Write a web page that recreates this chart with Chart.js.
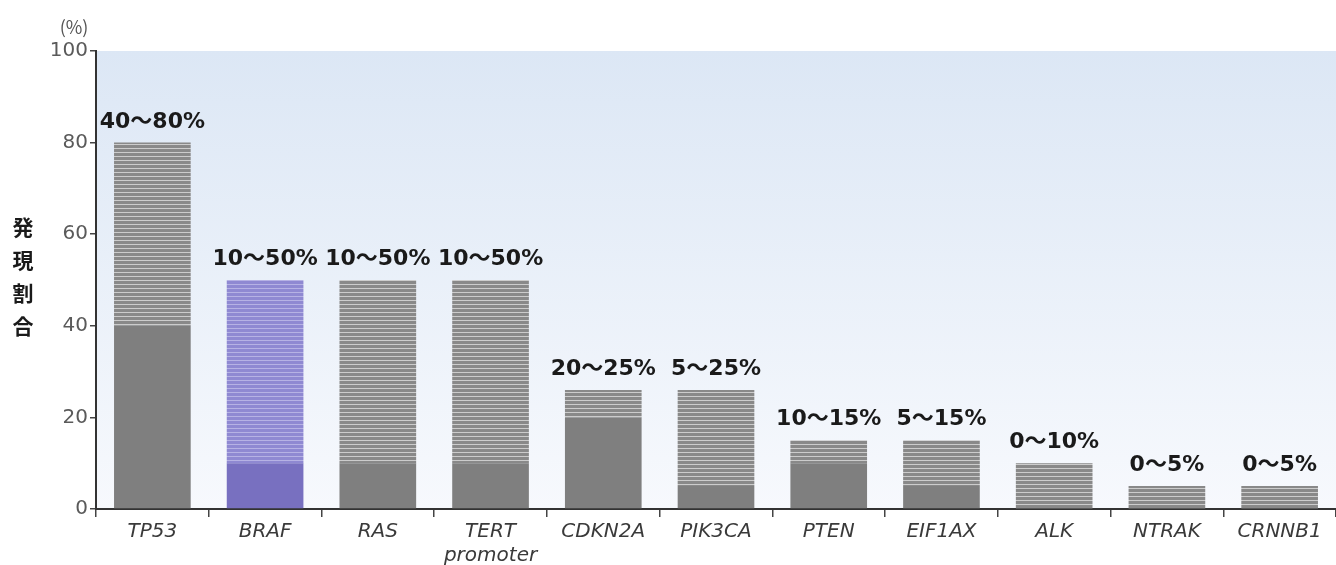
<!DOCTYPE html>
<html>
<head>
<meta charset="utf-8">
<script src="https://cdn.jsdelivr.net/npm/chart.js@4.4.1/dist/chart.umd.min.js"></script>
<style>
  html, body { margin: 0; padding: 0; background: #fff; }
  #wrap { width: 1336px; height: 565px; position: relative; }
</style>
</head>
<body>
<div id="wrap"><canvas id="c" width="1336" height="565"></canvas></div>
<script>
// ===== データ =====
const genes = ["TP53", "BRAF", "RAS", ["TERT", "promoter"], "CDKN2A", "PIK3CA", "PTEN", "EIF1AX", "ALK", "NTRAK", "CRNNB1"];
const lowVals = [40, 10, 10, 10, 20, 5, 10, 5, 0, 0, 0];
const highVals = [80, 50, 50, 50, 26, 26, 15, 15, 10, 5, 5];
const rangeLabels = ["40～80%", "10～50%", "10～50%", "10～50%", "20～25%", "5～25%", "10～15%", "5～15%", "0～10%", "0～5%", "0～5%"];
const yTicks = [0, 20, 40, 60, 80, 100];
const highlight = 1; // BRAF

// ===== 縞模様パターン =====
function stripes(base, line) {
  const p = document.createElement("canvas");
  p.width = 8; p.height = 4;
  const g = p.getContext("2d");
  g.fillStyle = base; g.fillRect(0, 0, 8, 4);
  g.fillStyle = line; g.fillRect(0, 0, 8, 1);
  return g.createPattern(p, "repeat");
}
const ctx = document.getElementById("c").getContext("2d");
const grayStripe = stripes("#898989", "#cccccc");
const blueStripe = stripes("#8f89d2", "#b6b2e4");

const solidColors = genes.map((_, i) => (i === highlight ? "#7870c0" : "#7f7f7f"));
const stripeColors = genes.map((_, i) => (i === highlight ? blueStripe : grayStripe));

// 背景グラデーション + 軸タイトル + 範囲ラベル
const decor = {
  id: "decor",
  beforeDraw(chart) {
    const { ctx: c, chartArea: a } = chart;
    const grad = c.createLinearGradient(0, a.top, 0, a.bottom);
    grad.addColorStop(0, "#dce7f5");
    grad.addColorStop(1, "#f7f9fd");
    c.save();
    c.fillStyle = grad;
    c.fillRect(a.left, a.top, a.right - a.left, a.bottom - a.top);
    c.restore();
  },
  afterDraw(chart) {
    const c = chart.ctx;
    const meta = chart.getDatasetMeta(1);
    const y = chart.scales.y;
    c.save();
    c.fillStyle = "#1a1a1a";
    c.font = "bold 22px 'DejaVu Sans', 'Noto Sans CJK JP'";
    c.textAlign = "center";
    c.textBaseline = "alphabetic";
    meta.data.forEach((bar, i) => {
      c.fillText(rangeLabels[i], bar.x, y.getPixelForValue(highVals[i]) - 15);
    });
    // (%)
    c.fillStyle = "#555";
    c.font = "18px 'Noto Sans CJK JP', 'DejaVu Sans'";
    c.textAlign = "center";
    c.textBaseline = "middle";
    c.fillText("(%)", 74, 27);
    // 縦書きタイトル
    c.fillStyle = "#1a1a1a";
    c.font = "bold 21px 'Noto Sans CJK JP'";
    "発現割合".split("").forEach((ch, k) => c.fillText(ch, 23, 227 + k * 33));
    c.restore();
  },
};

new Chart(ctx, {
  type: "bar",
  data: {
    labels: genes,
    datasets: [
      { data: lowVals, backgroundColor: solidColors, barPercentage: 0.68, categoryPercentage: 1 },
      {
        data: highVals.map((h, i) => h - lowVals[i]),
        backgroundColor: stripeColors,
        barPercentage: 0.68,
        categoryPercentage: 1,
      },
    ],
  },
  options: {
    responsive: false,
    animation: false,
    layout: { padding: { top: 51, left: 0, right: 0, bottom: 0 } },
    plugins: { legend: { display: false }, tooltip: { enabled: false } },
    scales: {
      x: {
        stacked: true,
        afterFit: (s) => { s.height = 56; },
        border: { display: true, color: "#333", width: 2 },
        grid: { offset: true, drawOnChartArea: false, drawTicks: true, tickLength: 8, color: "#444", lineWidth: 1.5 },
        ticks: {
          color: "#3a3a3a",
          padding: 3,
          font: { family: "'DejaVu Sans'", size: 20, style: "italic", lineHeight: 1.2 },
          maxRotation: 0,
          autoSkip: false,
        },
      },
      y: {
        stacked: true,
        min: 0,
        max: 100,
        afterFit: (s) => { s.width = 96; },
        afterBuildTicks: (s) => { s.ticks = yTicks.map((v) => ({ value: v })); },
        border: { display: true, color: "#333", width: 2 },
        grid: { drawOnChartArea: false, drawTicks: true, tickLength: 6, color: "#444", lineWidth: 1.5 },
        ticks: {
          color: "#5a5a5a",
          padding: 2,
          font: { family: "'DejaVu Sans'", size: 20 },
        },
      },
    },
  },
  plugins: [decor],
});
</script>
</body>
</html>
